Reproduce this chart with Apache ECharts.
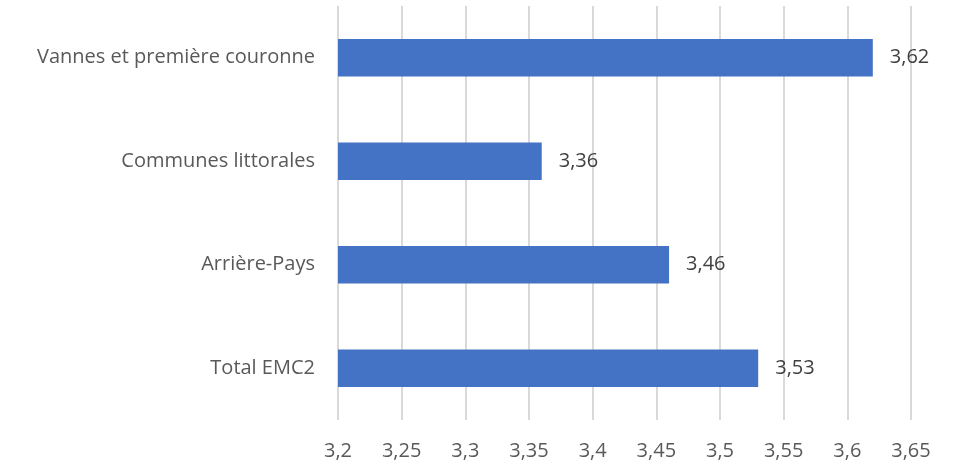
<!DOCTYPE html>
<html><head><meta charset="utf-8">
<script src="https://cdn.jsdelivr.net/npm/echarts@6/dist/echarts.min.js"></script>
<style>html,body{margin:0;padding:0;background:#fff}#c{width:959px;height:465px}</style>
</head><body><div id="c"></div>
<script>
const categories = ["Total EMC2", "Arrière-Pays", "Communes littorales", "Vannes et première couronne"];
const values = [3.53, 3.46, 3.36, 3.62];
const axisMin = 3.2, axisMax = 3.65, axisStep = 0.05;
const FONT = "Open Sans";
const fmt = v => String(Math.round(v*100)/100).replace('.', ',');
const chart = echarts.init(document.getElementById('c'), null, {renderer:'canvas'});
chart.setOption({
  animation:false,
  grid:{left:338, right:48, top:6, bottom:45, containLabel:false},
  xAxis:{type:'value', min:axisMin, max:axisMax, interval:axisStep,
    axisLine:{show:false}, axisTick:{show:false},
    splitLine:{show:true, lineStyle:{color:'#d9d9d9', width:2}},
    axisLabel:{color:'#595959', fontFamily:FONT, fontSize:20, margin:21, formatter:fmt}},
  yAxis:{type:'category', data:categories,
    axisLine:{show:false}, axisTick:{show:false},
    axisLabel:{color:'#595959', fontFamily:FONT, fontSize:20, margin:23}},
  series:[{type:'bar', data:values, barWidth:'36%',
    itemStyle:{color:'#4472C4'},
    label:{show:true, position:'right', distance:17, color:'#404040', fontFamily:FONT, fontSize:20, formatter:p=>fmt(p.value)}}]
});
</script></body></html>
